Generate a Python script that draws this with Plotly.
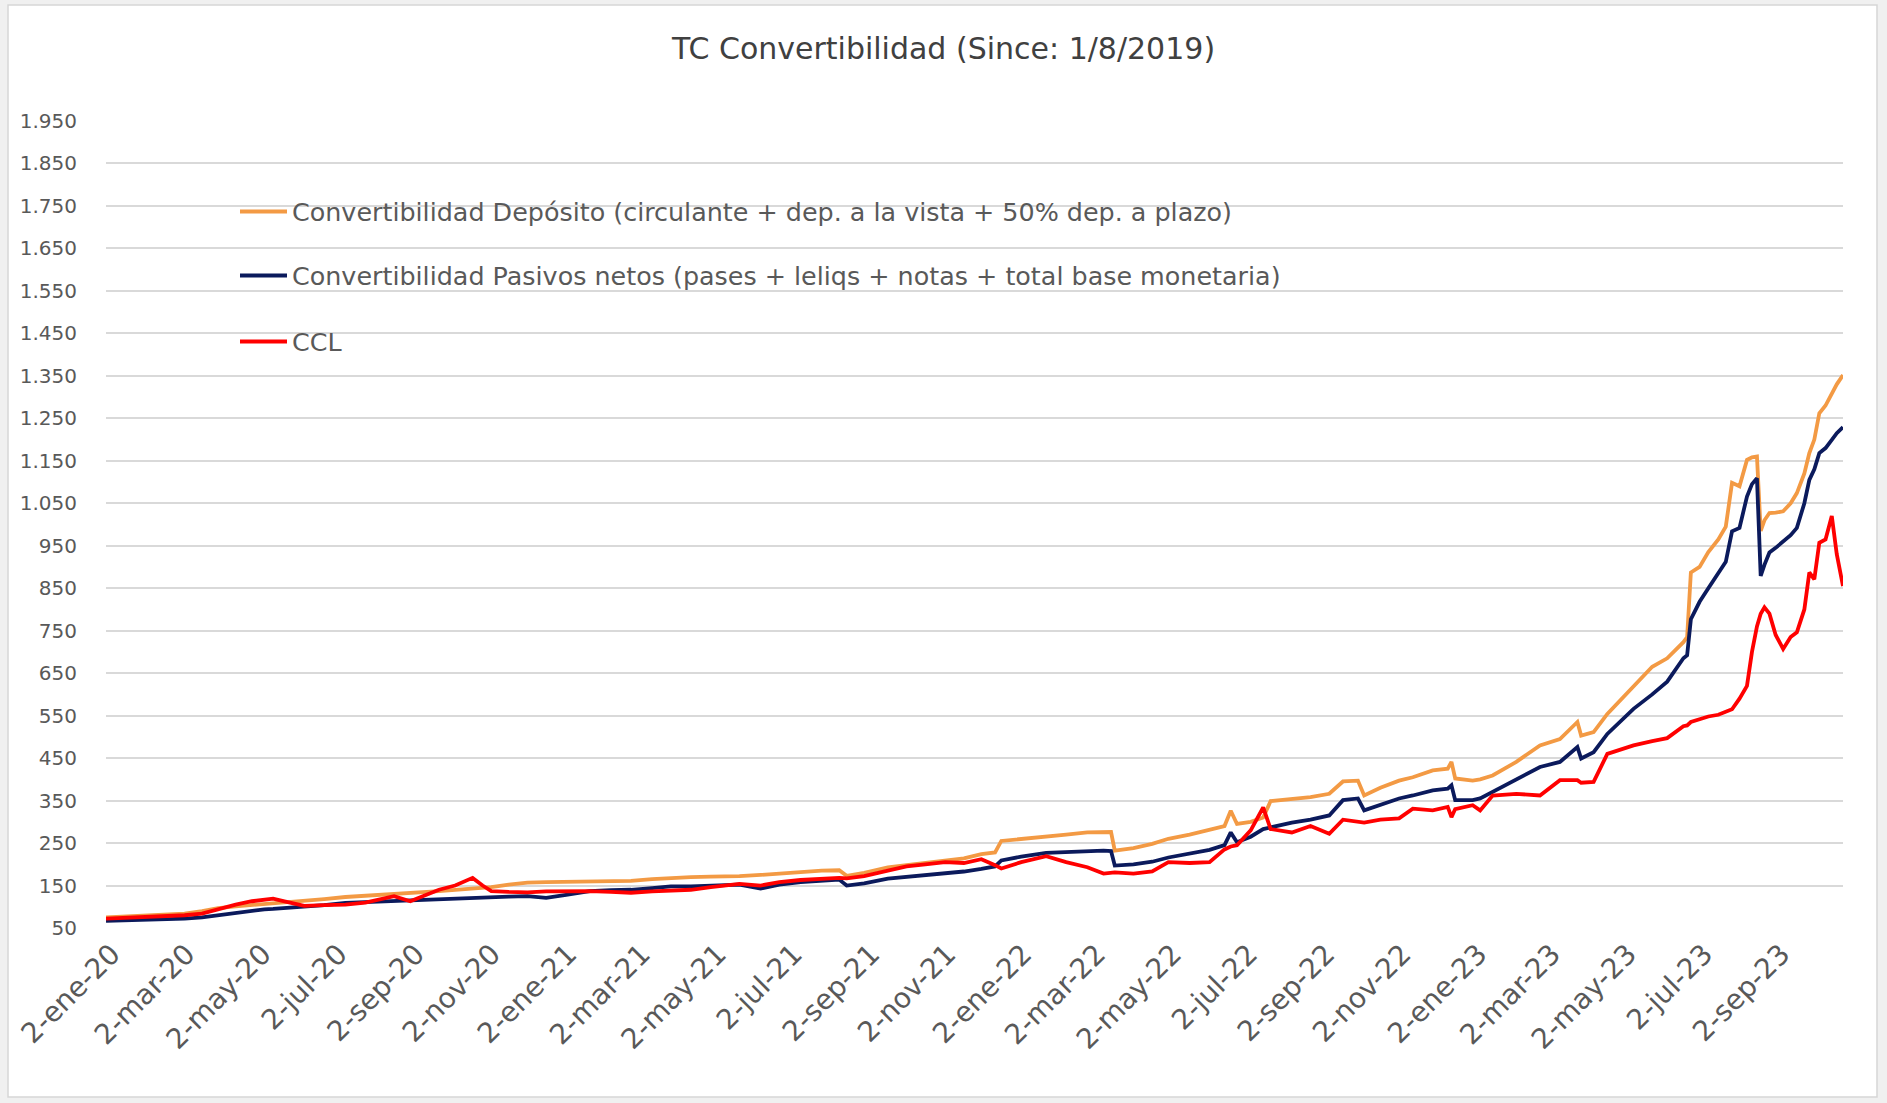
import plotly.graph_objects as go

# ---------------- data ----------------
dates = [
    "2020-01-02", "2020-01-20", "2020-02-05", "2020-02-20", "2020-03-05", "2020-03-19",
    "2020-04-01", "2020-04-15", "2020-04-28", "2020-05-08", "2020-05-15", "2020-05-25",
    "2020-06-09", "2020-06-25", "2020-07-12", "2020-07-28", "2020-08-10", "2020-08-20",
    "2020-09-02", "2020-09-15", "2020-09-25", "2020-10-08", "2020-10-16", "2020-10-22",
    "2020-10-30", "2020-11-06", "2020-11-20", "2020-12-05", "2020-12-20", "2021-01-05",
    "2021-01-24", "2021-02-10", "2021-02-26", "2021-03-15", "2021-03-30", "2021-04-15",
    "2021-05-01", "2021-05-24", "2021-06-10", "2021-06-25", "2021-07-12", "2021-07-29",
    "2021-08-12", "2021-08-18", "2021-09-01", "2021-09-20", "2021-10-05", "2021-10-20",
    "2021-11-05", "2021-11-20", "2021-12-04", "2021-12-15", "2021-12-20", "2022-01-05",
    "2022-01-25", "2022-02-10", "2022-02-27", "2022-03-12", "2022-03-18", "2022-03-21",
    "2022-04-05", "2022-04-20", "2022-05-03", "2022-05-20", "2022-06-05", "2022-06-17",
    "2022-06-22", "2022-06-27", "2022-07-08", "2022-07-18", "2022-07-24", "2022-08-10",
    "2022-08-25", "2022-09-09", "2022-09-20", "2022-10-02", "2022-10-07", "2022-10-20",
    "2022-11-04", "2022-11-15", "2022-12-01", "2022-12-13", "2022-12-16", "2022-12-19",
    "2023-01-02", "2023-01-08", "2023-01-18", "2023-02-06", "2023-02-25", "2023-03-13",
    "2023-03-27", "2023-03-30", "2023-04-09", "2023-04-20", "2023-05-11", "2023-05-26",
    "2023-06-07", "2023-06-20", "2023-06-23", "2023-06-26", "2023-07-03", "2023-07-10",
    "2023-07-18", "2023-07-24", "2023-07-29", "2023-08-04", "2023-08-10", "2023-08-14",
    "2023-08-18", "2023-08-21", "2023-08-24", "2023-08-28", "2023-09-02", "2023-09-08",
    "2023-09-14", "2023-09-19", "2023-09-25", "2023-09-29", "2023-10-03", "2023-10-07",
    "2023-10-12", "2023-10-17", "2023-10-21", "2023-10-26",
]

conv_deposito = [
    75, 77, 79, 81, 84, 90,
    97, 101, 104, 106, 108, 110,
    113, 118, 123, 126, 128, 129,
    131, 134, 137, 140, 142, 144,
    145, 146, 152, 157, 158, 159,
    160, 160, 161, 165, 168, 170,
    171, 172, 175, 178, 182, 185,
    186, 173, 180, 193, 198, 203,
    208, 214, 224, 228, 255, 260,
    267, 270, 275, 277, 276, 232,
    238, 248, 260, 270, 281, 290,
    326, 295, 300, 310, 349, 353,
    358, 366, 395, 397, 362, 380,
    397, 405, 421, 425, 441, 402,
    397, 400, 409, 441, 480, 495,
    535, 503, 511, 554, 617, 665,
    685, 723, 735, 887, 900, 935,
    965, 995, 1098, 1090, 1152, 1158,
    1160, 985, 1010, 1027, 1028, 1031,
    1050, 1074, 1120, 1168, 1200, 1262,
    1280, 1309, 1330, 1352,
]

conv_pasivos = [
    67, 68, 69, 70, 72, 75,
    80, 86, 91, 94, 95, 97,
    99, 104, 109, 111, 112, 113,
    115, 117, 118, 119, 120, 121,
    121, 122, 124, 125, 121, 128,
    137, 139, 140, 144, 148, 148,
    149, 152, 143, 152, 158, 162,
    164, 150, 155, 166, 170, 175,
    178, 183, 189, 195, 209, 218,
    227, 229, 230, 232, 231, 197,
    200, 206, 216, 226, 234, 245,
    275, 252, 265, 283, 287, 298,
    305, 315, 351, 355, 327, 340,
    355, 362, 374, 378, 386, 351,
    351, 355, 370, 398, 429, 441,
    476, 449, 464, 507, 566, 600,
    630, 685, 692, 777, 818, 850,
    885, 912, 984, 992, 1066, 1095,
    1109, 879, 905, 934, 945, 961,
    975, 992, 1050, 1105, 1130, 1168,
    1180, 1199, 1215, 1229,
]

ccl = [
    72, 74, 76, 78, 80, 84,
    95, 105, 113, 117, 119, 112,
    102, 104, 105, 110, 118, 125,
    113, 128, 140, 150, 160, 168,
    150, 137, 135, 134, 136, 137,
    137, 135, 133, 136, 137, 140,
    146, 154, 150, 158, 163, 166,
    168, 167, 172, 185, 195, 200,
    205, 203, 212, 198, 190, 205,
    219, 205, 193, 178, 180, 181,
    178, 183, 205, 203, 205, 235,
    242, 245, 280, 334, 283, 275,
    290, 272, 305, 300, 298, 305,
    308, 331, 327, 335, 311, 330,
    339, 327, 362, 366, 362, 398,
    398, 392, 394, 460, 480, 490,
    497, 525, 527, 535, 542, 548,
    552, 560, 565, 590, 620, 700,
    760, 790, 805, 790, 740, 707,
    735, 746, 800, 887, 871, 957,
    965, 1020, 930, 855,
]

series_names = [
    "Convertibilidad Depósito (circulante + dep. a la vista + 50% dep. a plazo)",
    "Convertibilidad Pasivos netos (pases + leliqs + notas + total base monetaria)",
    "CCL",
]

x_tick_dates = [
    "2020-01-02", "2020-03-02", "2020-05-02", "2020-07-02", "2020-09-02", "2020-11-02",
    "2021-01-02", "2021-03-02", "2021-05-02", "2021-07-02", "2021-09-02", "2021-11-02",
    "2022-01-02", "2022-03-02", "2022-05-02", "2022-07-02", "2022-09-02", "2022-11-02",
    "2023-01-02", "2023-03-02", "2023-05-02", "2023-07-02", "2023-09-02",
]
x_tick_labels = [
    "2-ene-20", "2-mar-20", "2-may-20", "2-jul-20", "2-sep-20", "2-nov-20",
    "2-ene-21", "2-mar-21", "2-may-21", "2-jul-21", "2-sep-21", "2-nov-21",
    "2-ene-22", "2-mar-22", "2-may-22", "2-jul-22", "2-sep-22", "2-nov-22",
    "2-ene-23", "2-mar-23", "2-may-23", "2-jul-23", "2-sep-23",
]
y_tick_values = [50, 150, 250, 350, 450, 550, 650, 750, 850, 950,
                 1050, 1150, 1250, 1350, 1450, 1550, 1650, 1750, 1850, 1950]
y_tick_labels = ["50", "150", "250", "350", "450", "550", "650", "750", "850", "950",
                 "1.050", "1.150", "1.250", "1.350", "1.450", "1.550", "1.650",
                 "1.750", "1.850", "1.950"]

title_text = "TC Convertibilidad (Since: 1/8/2019)"

# ---------------- styling ----------------
W, H = 1887, 1103
ML, MR, MT, MB = 106, 44, 121, 175
colors = ["#F39A44", "#0B1A5C", "#FF0000"]
FONT = "DejaVu Sans"
TXT = "#595959"

fig = go.Figure()
series = [conv_deposito, conv_pasivos, ccl]
legend_ids = ["legend", "legend2", "legend3"]
for name, vals, col, lg in zip(series_names, series, colors, legend_ids):
    fig.add_trace(go.Scatter(
        x=dates, y=vals, mode="lines", name=name,
        line=dict(color=col, width=3.8),
        legend=lg,
        hoverinfo="x+y+name",
    ))

plot_w = W - ML - MR
plot_h = H - MT - MB


def px_to_paper_x(px):
    return (px - ML) / plot_w


def px_to_paper_y(py):
    return (H - MB - py) / plot_h


legend_common = dict(
    font=dict(family=FONT, size=25.4, color=TXT),
    bgcolor="rgba(0,0,0,0)",
    xanchor="left", yanchor="middle",
    itemwidth=47,
)
legend_rows = [212, 276, 342]
legend_x = px_to_paper_x(235)

fig.update_layout(
    width=W, height=H,
    margin=dict(l=ML, r=MR, t=MT, b=MB, autoexpand=False),
    paper_bgcolor="#F0F0F0",
    plot_bgcolor="rgba(0,0,0,0)",
    title=dict(text=title_text, x=0.5, xref="container", xanchor="center",
               y=1 - 48 / H, yref="container", yanchor="middle",
               font=dict(family=FONT, size=30, color="#404040")),
    showlegend=True,
    legend=dict(x=legend_x, y=px_to_paper_y(legend_rows[0]), **legend_common),
    legend2=dict(x=legend_x, y=px_to_paper_y(legend_rows[1]), **legend_common),
    legend3=dict(x=legend_x, y=px_to_paper_y(legend_rows[2]), **legend_common),
    xaxis=dict(
        type="date",
        range=["2020-01-02", "2023-10-26"],
        tickvals=x_tick_dates, ticktext=x_tick_labels,
        tickangle=-45,
        tickfont=dict(family=FONT, size=28, color=TXT),
        showgrid=False, zeroline=False, showline=False, ticks="",
        ticklabelshift=6, ticklabelstandoff=3,
    ),
    yaxis=dict(
        range=[50, 1950],
        tickvals=y_tick_values, ticktext=y_tick_labels,
        tickfont=dict(family=FONT, size=20, color=TXT),
        showgrid=True, gridcolor="#D9D9D9", gridwidth=1.5,
        zeroline=False, showline=False, ticks="",
        ticklabelstandoff=28,
    ),
    shapes=[dict(
        type="rect", xref="paper", yref="paper", layer="below",
        x0=px_to_paper_x(8), x1=px_to_paper_x(1877),
        y0=px_to_paper_y(1097), y1=px_to_paper_y(5),
        fillcolor="white", line=dict(color="#D6D6D6", width=1.5),
    )],
)

fig.write_html(
    "out.html",
    config={"displayModeBar": False},
    post_script="document.body.style.margin='0';document.body.style.background='#F0F0F0';",
)
